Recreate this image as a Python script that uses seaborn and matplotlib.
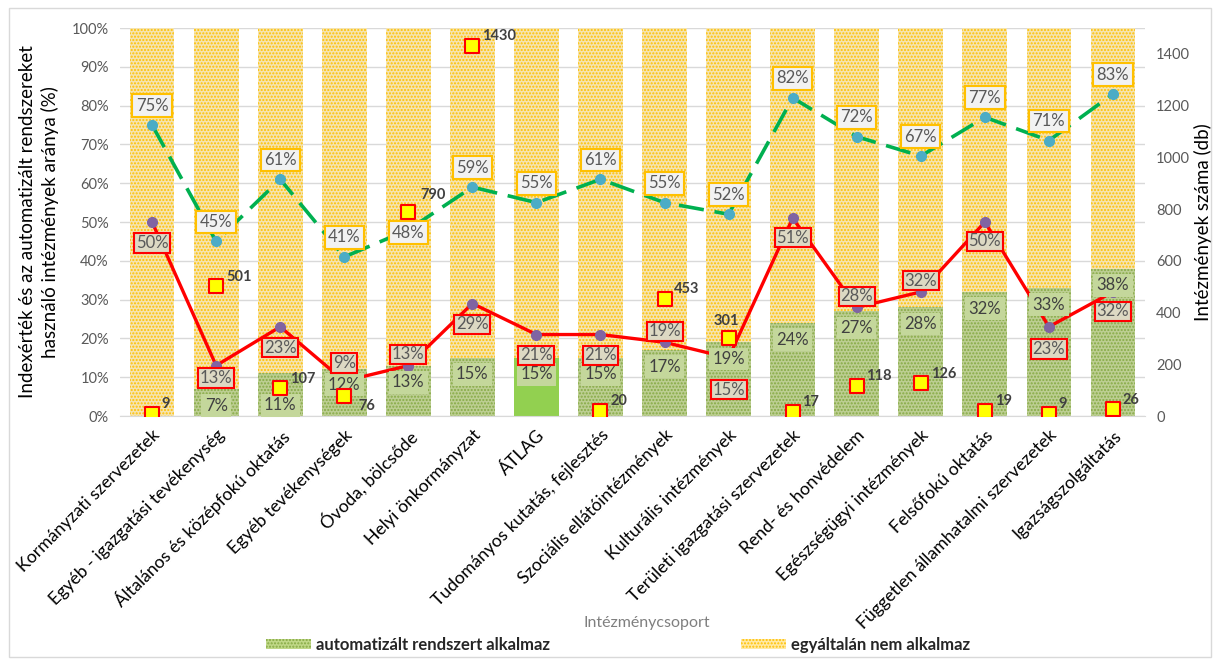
import numpy as np
import pandas as pd
import matplotlib
matplotlib.use('Agg')
import matplotlib.pyplot as plt
import seaborn as sns
from matplotlib.patches import Patch, Rectangle

# adatok
categories = ['Kormányzati szervezetek', 'Egyéb - igazgatási tevékenység',
              'Általános és középfokú oktatás', 'Egyéb tevékenységek',
              'Óvoda, bölcsőde', 'Helyi önkormányzat', 'ÁTLAG',
              'Tudományos kutatás, fejlesztés', 'Szociális ellátóintézmények',
              'Kulturális intézmények', 'Területi igazgatási szervezetek',
              'Rend- és honvédelem', 'Egészségügyi intézmények',
              'Felsőfokú oktatás', 'Független államhatalmi szervezetek',
              'Igazságszolgáltatás']
automatizalt = [0, 7, 11, 12, 13, 15, 15, 15, 17, 19, 24, 27, 28, 32, 33, 38]
osszes = [100] * 16
felso_index = [75, 45, 61, 41, 48, 59, 55, 61, 55, 52, 82, 72, 67, 77, 71, 83]
also_index = [50, 13, 23, 9, 13, 29, 21, 21, 19, 15, 51, 28, 32, 50, 23, 32]
intezmenyek = [9, 501, 107, 76, 790, 1430, np.nan, 20, 453, 301, 17, 118, 126, 19, 9, 26]

# címkék eltolása (pont)
felso_off = [14, 14, 14, 14, -2, 14, 14, 14, 14, 14, 14, 14, 14, 14, 14, 14]
also_off = [-15, -9, -15, 13, 8, -15, -15, -15, 8, -23, -14, 8, 8, -14, -16, -14]
auto_off = [-12, -12, -23, -11, -12, -12, -12, -12, -12, -12, -12, -12, -12, -12, -12, -12]
db_off = {3: (10, -7), 4: (9, 12), 9: (-2, 12)}

df = pd.DataFrame({'cat': categories, 'auto': automatizalt, 'total': osszes})
x = np.arange(len(categories))

sns.set_style('white')
plt.rcParams['font.family'] = ['Lato', 'DejaVu Sans']
plt.rcParams['hatch.linewidth'] = 1.0

fig = plt.figure(figsize=(12.15, 6.59), dpi=100)
ax = fig.add_axes([0.0988, 0.3687, 0.8436, 0.5888])

sns.barplot(data=df, x='cat', y='total', color='#ffeaa6', width=0.7, errorbar=None, ax=ax)
n_yellow = len(ax.patches)
sns.barplot(data=df, x='cat', y='auto', color='#c0d888', width=0.7, errorbar=None, ax=ax)

for i, p in enumerate(ax.patches):
    p.set_linewidth(0)
    if i < n_yellow:
        p.set_edgecolor('#ffc000')
        p.set_hatch('.....')
    else:
        k = i - n_yellow
        if categories[k] == 'ÁTLAG':
            p.set_facecolor('#92d050')
            p.set_edgecolor('#92d050')
        else:
            p.set_edgecolor('#86aa44')
            p.set_hatch('.....')

# vonalak
ax.plot(x, felso_index, color='#00b050', lw=2.6, ls=(0, (7, 3)), zorder=4)
ax.plot(x, felso_index, 'o', color='#4bacc6', ms=7, zorder=5)
ax.plot(x, also_index, color='#ff0000', lw=2.4, zorder=4)
ax.plot(x, also_index, 'o', color='#8064a2', ms=7, zorder=5)

# címkék
for i in x:
    ax.annotate(f'{felso_index[i]}%', (i, felso_index[i]), xytext=(0, felso_off[i]), textcoords='offset points',
                ha='center', va='center', fontsize=12, color='#595959', zorder=7,
                bbox=dict(boxstyle='square,pad=0.2', fc='#f2f2f2', ec='#ffc000', lw=1.5))
    ax.annotate(f'{also_index[i]}%', (i, also_index[i]), xytext=(0, also_off[i]), textcoords='offset points',
                ha='center', va='center', fontsize=12, color='#595959', zorder=7,
                bbox=dict(boxstyle='square,pad=0.1', fc='#ddd9c3', ec='#ff0000', lw=1.5))
    if automatizalt[i] > 0:
        ax.annotate(f'{automatizalt[i]}%', (i, automatizalt[i]), xytext=(0, auto_off[i]), textcoords='offset points',
                    ha='center', va='center', fontsize=12, color='#404040', zorder=6,
                    bbox=dict(boxstyle='square,pad=0.2', fc='#c4d79b', ec='none'))

ax.set_ylim(0, 100)
ax.set_xlim(-0.5, len(categories) - 0.5)
ax.set_yticks(range(0, 101, 10))
ax.set_yticklabels([f'{v}%' for v in range(0, 101, 10)], fontsize=10.5, color='#595959')
ax.set_xticks(x)
ax.set_xticklabels(categories, rotation=45, ha='right', rotation_mode='anchor', fontsize=12.7, color='#000000')
ax.tick_params(axis='y', length=0, pad=8)
ax.tick_params(axis='x', length=0, pad=8)
ax.set_xlabel('')
ax.set_ylabel('Indexérték és az automatizált rendszereket\nhasználó intézmények aránya (%)', fontsize=13.5,
              color='#000000', labelpad=9, linespacing=1.35)
ax.grid(axis='y', color='#d9d9d9', lw=1)
ax.set_axisbelow(True)
for s in ['top', 'left', 'right']:
    ax.spines[s].set_visible(False)
ax.spines['bottom'].set_color('#d9d9d9')

# másodlagos tengely
ax2 = ax.twinx()
sns.scatterplot(x=x, y=intezmenyek, marker='s', s=95, color='#ffff00', edgecolor='#ff0000', linewidth=1.5, ax=ax2, zorder=6)
for i in x:
    if np.isnan(intezmenyek[i]):
        continue
    off = db_off.get(i, (7, 7))
    ax2.annotate(f'{int(intezmenyek[i])}', (i, intezmenyek[i]), xytext=off, textcoords='offset points',
                 ha='left' if off[0] >= 0 else 'center', va='center', fontsize=10.5, fontweight='bold', color='#404040')
ax2.set_ylim(0, 1500)
ax2.set_yticks(range(0, 1401, 200))
ax2.set_yticklabels([str(v) for v in range(0, 1401, 200)], fontsize=10.5, color='#595959')
ax2.tick_params(axis='y', length=0, pad=8)
ax2.set_ylabel('Intézmények száma (db)', fontsize=13.5, color='#000000', labelpad=3)
for s in ax2.spines.values():
    s.set_visible(False)

fig.text(647 / 1215, 1 - 623 / 659, 'Intézménycsoport', ha='center', va='center', fontsize=11.5, color='#7f7f7f')

handles = [Patch(facecolor='#c0d888', edgecolor='#86aa44', hatch='.....', lw=0, label='automatizált rendszert alkalmaz'),
           Patch(facecolor='#ffeaa6', edgecolor='#ffc000', hatch='.....', lw=0, label='egyáltalán nem alkalmaz')]
fig.legend(handles=handles, loc='center', bbox_to_anchor=(618 / 1215, 1 - 645 / 659), ncol=2, frameon=False,
           prop={'weight': 'bold', 'size': 12}, columnspacing=11.5, handlelength=2.7, handleheight=0.6,
           handletextpad=0.3, borderpad=0)

fig.patches.append(Rectangle((0.007, 0.003), 0.99, 0.985, transform=fig.transFigure, fill=False, ec='#d9d9d9', lw=1))

fig.savefig('out.png', dpi=100)
